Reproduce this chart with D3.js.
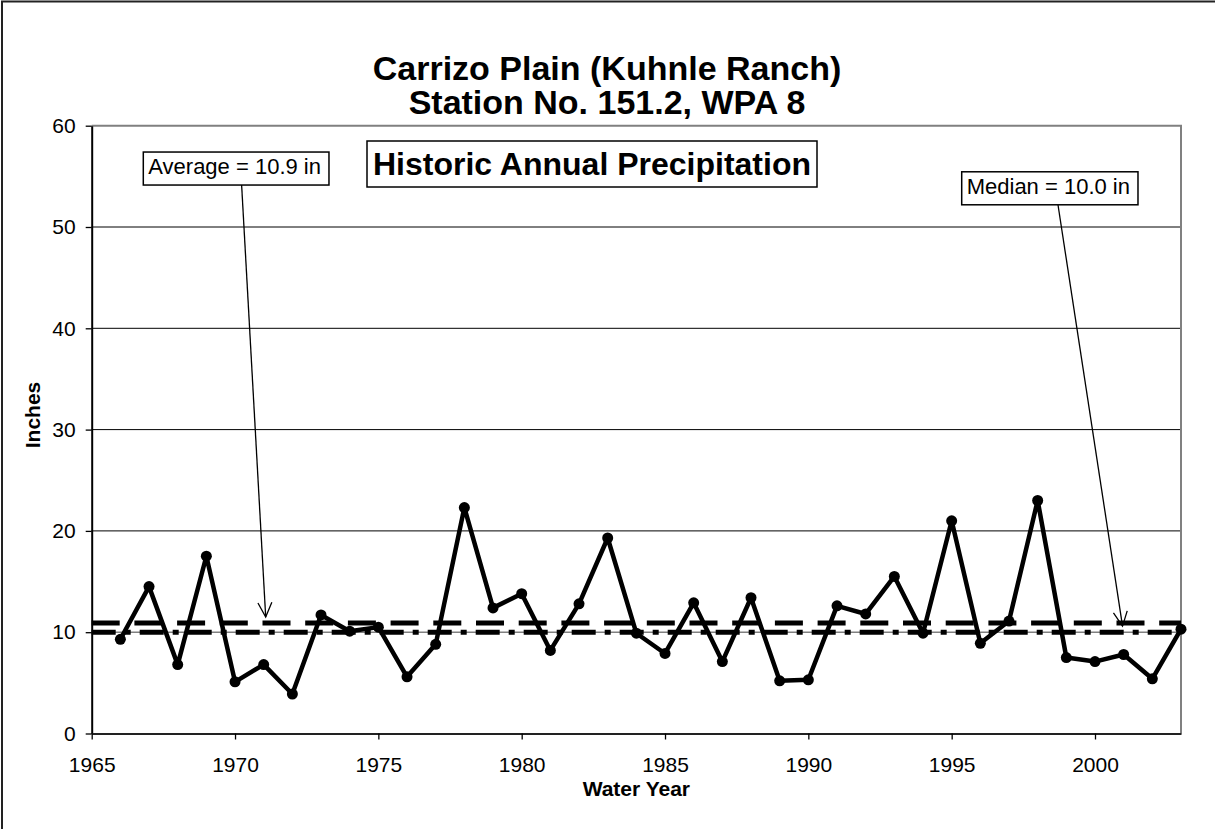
<!DOCTYPE html>
<html>
<head>
<meta charset="utf-8">
<script src="https://cdn.jsdelivr.net/npm/d3@7"></script>
<style>
  body { margin: 0; background: #fff; }
  text { font-family: Arial, "Liberation Sans", sans-serif; fill: #000; }
</style>
</head>
<body>
<svg width="1215" height="829"></svg>
<script>
// water years and annual totals (inches)
var years = [1966, 1967, 1968, 1969, 1970, 1971, 1972, 1973, 1974, 1975,
             1976, 1977, 1978, 1979, 1980, 1981, 1982, 1983, 1984, 1985,
             1986, 1987, 1988, 1989, 1990, 1991, 1992, 1993, 1994, 1995,
             1996, 1997, 1998, 1999, 2000, 2001, 2002, 2003];
var precip = [9.3, 14.5, 6.8, 17.5, 5.1, 6.8, 3.9, 11.7, 10.1, 10.5,
              5.6, 8.8, 22.3, 12.4, 13.8, 8.2, 12.8, 19.3, 9.9, 7.9,
              12.9, 7.1, 13.4, 5.2, 5.3, 12.6, 11.8, 15.5, 9.9, 21.0,
              8.9, 11.1, 23.0, 7.5, 7.1, 7.8, 5.4, 10.3];
var average = 10.9;
var median = 10.0;

var xTicks = [1965, 1970, 1975, 1980, 1985, 1990, 1995, 2000];
var yTicks = [0, 10, 20, 30, 40, 50, 60];

// callouts: label, box corner (year, inches), arrow start, arrow tip
var noteLabels = ["Average = 10.9 in", "Median = 10.0 in"];
var noteBox = [[1966.8, 57.4], [1995.35, 55.45]];
var noteFrom = [[1970.23, 54.15], [1998.71, 52.17]];
var noteTo = [[1971.07, 11.5], [2000.96, 10.6]];

var svg = d3.select("svg"),
    width = +svg.attr("width"),
    height = +svg.attr("height");

var pLeft = 91.7, pRight = 1181, pTop = 125.7, pBottom = 733.5;

var x = d3.scaleLinear().domain([1965, 2003]).range([pLeft, pRight]);
var y = d3.scaleLinear().domain([0, 60]).range([pBottom, pTop]);

// outer chart frame
svg.append("rect")
    .attr("x", 2).attr("y", 1.5)
    .attr("width", width + 20).attr("height", height + 20)
    .attr("fill", "none").attr("stroke", "#222").attr("stroke-width", 2);

// horizontal gridlines
svg.append("g")
    .selectAll("line")
    .data(yTicks.filter(function(d) { return d > 0 && d < 60; }))
    .enter().append("line")
    .attr("x1", pLeft).attr("x2", pRight)
    .attr("y1", function(d) { return y(d); })
    .attr("y2", function(d) { return y(d); })
    .attr("stroke", function(d) { return d == 10 ? "#808080" : "#000"; })
    .attr("stroke-width", function(d) { return d == 10 ? 1.6 : 1; });

// plot frame, top and right in grey
svg.append("path")
    .attr("d", "M" + pLeft + "," + pTop + "H" + pRight + "V" + pBottom)
    .attr("fill", "none").attr("stroke", "#808080").attr("stroke-width", 2);

// y axis
var yAxis = svg.append("g")
    .attr("transform", "translate(" + pLeft + ",0)")
    .call(d3.axisLeft(y).tickValues(yTicks).tickSize(6).tickSizeOuter(0).tickPadding(10));
yAxis.select(".domain").attr("stroke", "#000").attr("stroke-width", 2);
yAxis.selectAll(".tick line").attr("stroke", "#000").attr("stroke-width", 1.3);
yAxis.selectAll("text").style("font-size", "21px").attr("fill", "#000");

// x axis
var xAxis = svg.append("g")
    .attr("transform", "translate(0," + pBottom + ")")
    .call(d3.axisBottom(x).tickValues(xTicks).tickFormat(d3.format("d"))
        .tickSize(6).tickSizeOuter(0).tickPadding(18));
xAxis.select(".domain").attr("stroke", "#222").attr("stroke-width", 2);
xAxis.selectAll(".tick line").attr("stroke", "#000").attr("stroke-width", 1.3);
xAxis.selectAll("text").style("font-size", "21px").attr("fill", "#000");

// average (dashed) and median (dash-dot) lines
svg.append("line")
    .attr("x1", pLeft).attr("x2", pRight)
    .attr("y1", y(average)).attr("y2", y(average))
    .attr("stroke", "#000").attr("stroke-width", 5)
    .attr("stroke-dasharray", "28,14.7");

svg.append("line")
    .attr("x1", pLeft).attr("x2", pRight)
    .attr("y1", y(median)).attr("y2", y(median))
    .attr("stroke", "#000").attr("stroke-width", 5)
    .attr("stroke-dasharray", "24,9,6,9");

// precipitation series
var series = years.map(function(d, i) { return { year: d, value: precip[i] }; });

svg.append("path")
    .datum(series)
    .attr("fill", "none")
    .attr("stroke", "#000")
    .attr("stroke-width", 4.5)
    .attr("stroke-linejoin", "round")
    .attr("d", d3.line()
        .x(function(d) { return x(d.year); })
        .y(function(d) { return y(d.value); }));

svg.append("g")
    .selectAll("circle")
    .data(series)
    .enter().append("circle")
    .attr("cx", function(d) { return x(d.year); })
    .attr("cy", function(d) { return y(d.value); })
    .attr("r", 5.5)
    .attr("fill", "#000");

// callout boxes with arrows
noteLabels.forEach(function(label, i) {
    var g = svg.append("g");
    var bx = x(noteBox[i][0]), by = y(noteBox[i][1]);
    var t = g.append("text")
        .attr("x", bx + 5).attr("y", by + 22)
        .style("font-size", "22px")
        .text(label);
    var w = t.node().getComputedTextLength();
    g.insert("rect", "text")
        .attr("x", bx).attr("y", by)
        .attr("width", w + 13).attr("height", 33)
        .attr("fill", "#fff").attr("stroke", "#000").attr("stroke-width", 1.5);

    var x1 = x(noteFrom[i][0]), y1 = y(noteFrom[i][1]),
        x2 = x(noteTo[i][0]), y2 = y(noteTo[i][1]);
    g.append("line")
        .attr("x1", x1).attr("y1", y1).attr("x2", x2).attr("y2", y2)
        .attr("stroke", "#000").attr("stroke-width", 1.3);
    var ang = Math.atan2(y2 - y1, x2 - x1), len = 16, spread = 0.45;
    g.append("path")
        .attr("d", "M" + (x2 - len * Math.cos(ang - spread)) + "," + (y2 - len * Math.sin(ang - spread)) +
                   "L" + x2 + "," + y2 +
                   "L" + (x2 - len * Math.cos(ang + spread)) + "," + (y2 - len * Math.sin(ang + spread)))
        .attr("fill", "none").attr("stroke", "#000").attr("stroke-width", 1.3);
});

// titles
svg.append("text")
    .attr("x", 607).attr("y", 80)
    .attr("text-anchor", "middle")
    .style("font-size", "34px").style("font-weight", "bold")
    .text("Carrizo Plain (Kuhnle Ranch)");
svg.append("text")
    .attr("x", 607).attr("y", 114)
    .attr("text-anchor", "middle")
    .style("font-size", "34px").style("font-weight", "bold")
    .text("Station No. 151.2, WPA 8");

var sub = svg.append("g");
sub.append("text")
    .attr("x", 592).attr("y", 175)
    .attr("text-anchor", "middle")
    .style("font-size", "32px").style("font-weight", "bold")
    .text("Historic Annual Precipitation");
sub.insert("rect", "text")
    .attr("x", 367).attr("y", 141)
    .attr("width", 450).attr("height", 46)
    .attr("fill", "#fff").attr("stroke", "#000").attr("stroke-width", 1.5);

// axis titles
svg.append("text")
    .attr("x", (pLeft + pRight) / 2).attr("y", 796)
    .attr("text-anchor", "middle")
    .style("font-size", "21px").style("font-weight", "bold")
    .text("Water Year");
svg.append("text")
    .attr("transform", "translate(40,415) rotate(-90)")
    .attr("text-anchor", "middle")
    .style("font-size", "21px").style("font-weight", "bold")
    .text("Inches");
</script>
</body>
</html>
